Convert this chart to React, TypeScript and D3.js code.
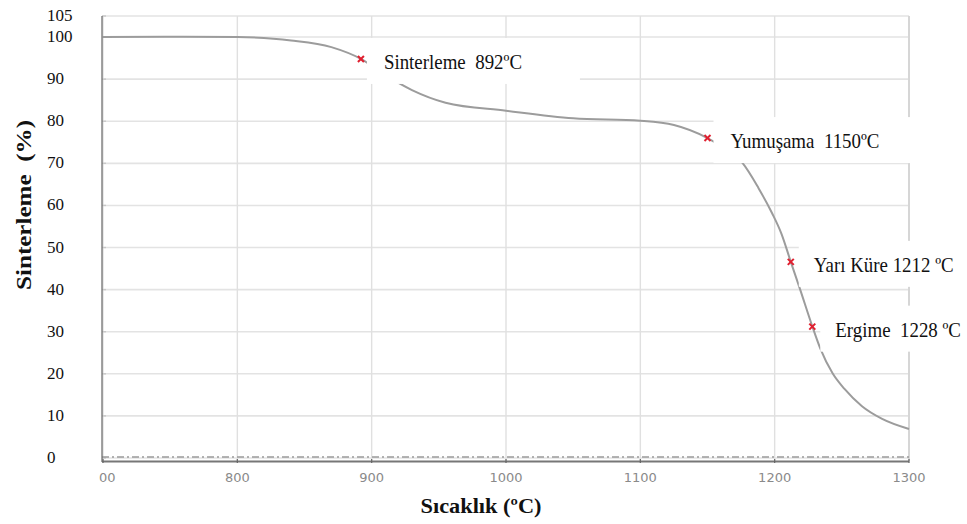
import React from "react";
import * as d3 from "d3";

const temps = [700, 760, 800, 840, 870, 892, 910, 930, 955, 1000, 1050, 1100, 1125, 1150, 1163, 1176, 1188, 1198, 1205, 1212, 1219, 1228, 1234, 1243, 1252, 1265, 1280, 1300];
const sinter = [100, 100.1, 100, 99.2, 97.6, 94.8, 91, 87.4, 84.4, 82.5, 80.7, 80.1, 79.1, 76, 73.5, 70.1, 64.1, 58.2, 53.3, 46.6, 40, 31.3, 26, 20.2, 16.4, 12.3, 9.3, 6.9];

const markerTemps = [892, 1150, 1212, 1228];
const markerValues = [94.8, 76, 46.6, 31.2];
const markerLabels = ["Sinterleme  892ºC", "Yumuşama  1150ºC", "Yarı Küre 1212 ºC", "Ergime  1228 ºC"];
const markerBoxWidths = [213, 197, 168, 150];

const xTicks = [700, 800, 900, 1000, 1100, 1200, 1300];
const xTickLabels = ["00", "800", "900", "1000", "1100", "1200", "1300"];
const yTicks = [0, 10, 20, 30, 40, 50, 60, 70, 80, 90, 100, 105];
const yTickLabels = ["0", "10", "20", "30", "40", "50", "60", "70", "80", "90", "100", "105"];

const xTitle = "Sıcaklık (ºC)";
const yTitle = "Sinterleme  (%)";

const W = 967;
const H = 524;

export default function App() {
  const x = d3.scaleLinear().domain([700, 1300]).range([103, 909]);
  const y = d3.scaleLinear().domain([0, 105]).range([458, 16]);
  const line = d3
    .line<number>()
    .x((_, i) => x(temps[i]))
    .y((d) => y(d))
    .curve(d3.curveMonotoneX);

  const serif = "'Liberation Serif', 'Times New Roman', serif";
  const left = x(700) - 1;
  const right = x(1300);
  const top = y(105);
  const bottom = y(0);

  return (
    <svg width={W} height={H} style={{ position: "absolute", left: 0, top: 0, background: "#fff" }}>
      {/* grid */}
      {yTicks.map((t) => (
        <line key={"gy" + t} x1={left} x2={right} y1={y(t)} y2={y(t)} stroke="#e3e3e3" strokeWidth={1.6} />
      ))}
      {xTicks.map((t) => (
        <line key={"gx" + t} x1={x(t)} x2={x(t)} y1={top} y2={bottom + 3} stroke={t === 1300 ? "#d6d6d6" : "#e0e0e0"} strokeWidth={t === 1300 ? 2 : 1.4} />
      ))}
      {/* left axis ticks */}
      {yTicks.map((t) => (
        <line key={"ty" + t} x1={left} x2={left + 4} y1={y(t)} y2={y(t)} stroke="#c8c8c8" strokeWidth={1.4} />
      ))}
      {/* zero dash-dot line */}
      <line x1={left} x2={right} y1={bottom - 1} y2={bottom - 1} stroke="#9a9a9a" strokeWidth={1.6} strokeDasharray="7,3,2,3" />
      {/* axes */}
      <line x1={left} x2={left} y1={top} y2={bottom + 4} stroke="#666" strokeWidth={1.2} />
      <line x1={left} x2={right} y1={bottom + 3.5} y2={bottom + 3.5} stroke="#777" strokeWidth={2} />
      {xTicks.map((t) => (
        <line key={"tx" + t} x1={x(t)} x2={x(t)} y1={bottom + 1} y2={bottom + 5} stroke="#666" strokeWidth={1.2} />
      ))}

      {/* curve */}
      <path d={line(sinter) ?? ""} fill="none" stroke="#9c9c9c" strokeWidth={2} />

      {/* annotation boxes */}
      {markerTemps.map((t, i) => {
        const mx = x(t);
        const my = y(markerValues[i]);
        return (
          <g key={"a" + i}>
            <rect x={mx + (i >= 2 ? 8 : 6)} y={my - 21} width={Math.min(markerBoxWidths[i], W - mx - 8)} height={46} fill="#fff" />
            <text
              transform={`translate(${mx + 23},${my + 10}) scale(0.9,1)`}
              fontFamily={serif}
              fontSize={21}
              fill="#111"
              style={{ whiteSpace: "pre" }}
            >
              {markerLabels[i]}
            </text>
          </g>
        );
      })}

      {/* markers */}
      {markerTemps.map((t, i) => {
        const mx = x(t);
        const my = y(markerValues[i]);
        return (
          <g key={"m" + i} stroke="#e02030" strokeWidth={2}>
            <line x1={mx - 3} x2={mx + 3} y1={my - 3} y2={my + 3} />
            <line x1={mx - 3} x2={mx + 3} y1={my + 3} y2={my - 3} />
          </g>
        );
      })}

      {/* y tick labels */}
      {yTicks.map((t, i) => (
        <text key={"ly" + t} x={47} y={y(t) + 5} fontFamily={serif} fontSize={17} fill="#111">
          {yTickLabels[i]}
        </text>
      ))}
      {/* x tick labels */}
      {xTicks.map((t, i) => (
        <text
          key={"lx" + t}
          x={i === 0 ? x(t) - 4 : x(t)}
          y={482}
          textAnchor={i === 0 ? "start" : "middle"}
          fontFamily="'DejaVu Sans', sans-serif"
          fontSize={13}
          fill="#8a8a8a"
        >
          {xTickLabels[i]}
        </text>
      ))}

      {/* titles */}
      <text x={481} y={513} textAnchor="middle" fontFamily={serif} fontWeight="bold" fontSize={22} fill="#111" textLength={121} lengthAdjust="spacingAndGlyphs">
        {xTitle}
      </text>
      <text
        transform="translate(31,205) rotate(-90)"
        textAnchor="middle"
        fontFamily={serif}
        fontWeight="bold"
        fontSize={22}
        fill="#111"
        textLength={170}
        lengthAdjust="spacingAndGlyphs"
        style={{ whiteSpace: "pre" }}
      >
        {yTitle}
      </text>
    </svg>
  );
}
